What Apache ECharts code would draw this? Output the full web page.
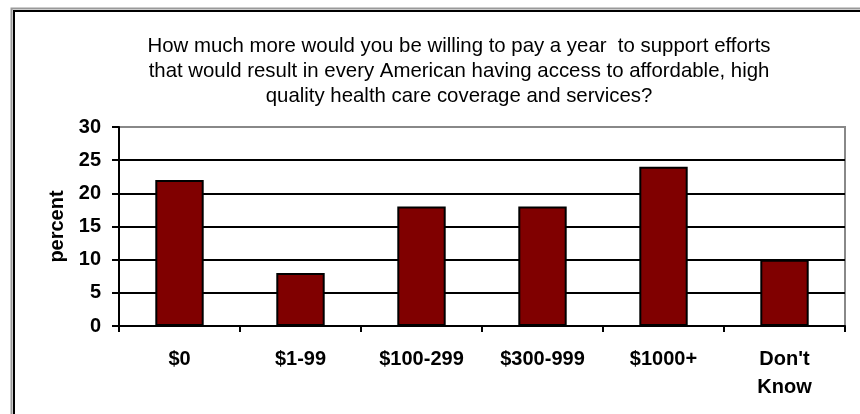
<!DOCTYPE html>
<html><head><meta charset="utf-8">
<script src="https://cdn.jsdelivr.net/npm/echarts@6/dist/echarts.min.js"></script>
<style>html,body{margin:0;padding:0;background:#fff}#c{width:860px;height:414px}</style>
</head><body><div id="c"></div>
<script>
const titleLines = [
  "How much more would you be willing to pay a year  to support efforts",
  "that would result in every American having access to affordable, high",
  "quality health care coverage and services?"
];
const categories = ["$0", "$1-99", "$100-299", "$300-999", "$1000+", "Don't\nKnow"];
const values = [22, 8, 18, 18, 24, 10];
const yTicks = { min: 0, max: 30, interval: 5 };
const yName = "percent";

const chart = echarts.init(document.getElementById('c'), null, {renderer: 'canvas'});
const FONT = 'Liberation Sans, Arial, sans-serif';
chart.setOption({
  animation: false,
  backgroundColor: '#fff',
  title: {
    text: titleLines.join('\n'),
    left: 454, top: 29, textAlign: 'center',
    textStyle: {fontFamily: FONT, fontSize: 20.4, fontWeight: 'normal', color: '#000', lineHeight: 25}
  },
  grid: {left: 119, right: 15, top: 127, bottom: 88, show: true, borderColor: '#888', borderWidth: 2, backgroundColor: 'transparent'},
  xAxis: {
    type: 'category', data: categories,
    axisLine: {lineStyle: {color: '#000', width: 2}},
    axisTick: {show: true, alignWithLabel: false, length: 6, lineStyle: {color: '#000', width: 2}},
    axisLabel: {fontFamily: FONT, fontSize: 20, fontWeight: 'bold', color: '#000', margin: 19, lineHeight: 28, interval: 0}
  },
  yAxis: {
    type: 'value', min: yTicks.min, max: yTicks.max, interval: yTicks.interval,
    name: yName, nameLocation: 'middle', nameGap: 52, nameRotate: 90,
    nameTextStyle: {fontFamily: FONT, fontSize: 20, fontWeight: 'bold', color: '#000'},
    axisLine: {show: true, lineStyle: {color: '#000', width: 2}},
    axisTick: {show: true, length: 7, lineStyle: {color: '#000', width: 2}},
    axisLabel: {fontFamily: FONT, fontSize: 20, fontWeight: 'bold', color: '#000', margin: 18},
    splitLine: {show: true, showMaxLine: false, lineStyle: {color: '#000', width: 2}}
  },
  series: [{
    type: 'bar', data: values, barWidth: '40%',
    itemStyle: {color: '#800000', borderColor: '#000', borderWidth: 2}
  }],
  graphic: [
    {type: 'rect', shape: {x: 11.5, y: 8.5, width: 870, height: 420}, style: {fill: 'none', stroke: '#999', lineWidth: 2}, silent: true},
    {type: 'rect', shape: {x: 14, y: 11, width: 870, height: 420}, style: {fill: 'none', stroke: '#000', lineWidth: 2}, silent: true}
  ]
});
</script></body></html>
